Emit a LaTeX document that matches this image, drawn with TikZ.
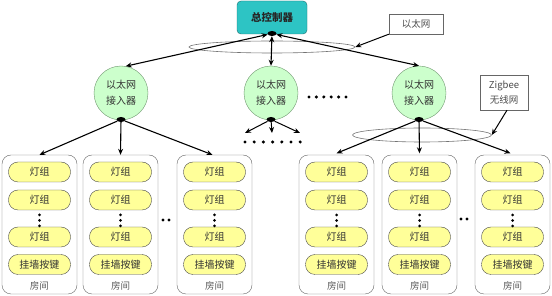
\documentclass[tikz,border=0pt]{standalone}
\usepackage{fontspec}
\newfontfamily\cjk{Noto Sans CJK SC}
\usetikzlibrary{shapes.geometric,arrows.meta}
\definecolor{teal1}{RGB}{45,196,196}
\definecolor{teal2}{RGB}{30,110,110}
\definecolor{green1}{RGB}{204,255,204}
\definecolor{green2}{RGB}{110,150,110}
\definecolor{yel1}{RGB}{255,255,153}
\definecolor{txt}{RGB}{50,50,50}
\tikzset{
  ctrl/.style={draw=teal2,fill=teal1,rounded corners=4pt,minimum width=70pt,minimum height=33pt,inner sep=0pt,font=\cjk\bfseries\fontsize{10.5}{12}\selectfont,text=black!85},
  acc/.style={circle,draw=green2,fill=green1,minimum size=54pt,inner sep=0pt,align=center,font=\cjk\fontsize{10}{16}\selectfont,text=txt},
  room/.style={draw=black!60,rounded corners=9pt,minimum width=75pt,minimum height=139pt,inner sep=0pt},
  pill/.style={draw=black!70,fill=yel1,rounded corners=9.5pt,minimum width=62pt,minimum height=20pt,inner sep=0pt,font=\cjk\fontsize{10}{11}\selectfont,text=txt},
  rlabel/.style={font=\cjk\fontsize{9.5}{11}\selectfont,text=black!65,inner sep=0pt},
  lbox/.style={draw=black!60,fill=white,inner sep=0pt,align=center,font=\cjk\fontsize{9.5}{15}\selectfont,text=black!70},
  ring/.style={ellipse,draw=black!55,line width=0.6pt,inner sep=0pt},
  arr/.style={-{Stealth[length=6pt,width=5pt]},line width=1.1pt},
  darr/.style={{Stealth[length=6pt,width=5pt]}-{Stealth[length=6pt,width=5pt]},line width=1.1pt},
  blob/.style={ellipse,fill=black,minimum width=9pt,minimum height=5pt,inner sep=0pt},
  dot/.style={circle,fill=black,minimum size=3.4pt,inner sep=0pt},
}
\begin{document}
\begin{tikzpicture}[x=1pt,y=-1pt]
\useasboundingbox (0,0) rectangle (552,296);
% rings
\node[ring,minimum width=166pt,minimum height=12pt] (eth) at (272,47) {};
\node[ring,minimum width=139pt,minimum height=14pt] (zig) at (422,135) {};
% controller
\node[ctrl] (C) at (272,17.5) {总控制器};
\node[blob] (JC) at (272,33.5) {};
% access nodes
\node[acc] (A1) at (121,93) {以太网\\接入器};
\node[acc] (A2) at (271,93) {以太网\\接入器};
\node[acc] (A3) at (419,93) {以太网\\接入器};
\node[blob] (J1) at (121,119.5) {};
\node[blob] (J2) at (271,119.5) {};
\node[blob] (J3) at (419,119.5) {};
% labels
\node[lbox,minimum width=54pt,minimum height=20pt] (LE) at (416,24) {以太网};
\node[lbox,minimum width=48pt,minimum height=35pt] (LZ) at (504,92.5) {Zigbee\\无线网};
\draw[arr,line width=1pt] (LE.south west) -- (eth.east);
\draw[arr,line width=1pt] (LZ.south) ++(3pt,0) coordinate (lzs) -- (zig.east);
% controller links
\draw[darr] (JC) -- (A1.80);
\draw[darr] (JC) -- (A2.north);
\draw[darr] (JC) -- (A3.north);
% dots between access nodes
\foreach \i [count=\k] in {0,...,5} \node[dot] (hd\k) at (309+7.4*\i,97) {};
% middle node fan-out
\foreach \i [count=\k] in {0,...,6} \node[dot] (md\k) at (245+9.2*\i,142) {};
\coordinate (m1) at (245,133);
\coordinate (m2) at (272,133);
\coordinate (m3) at (300,133);
\draw[arr,line width=1pt] (J2) -- (m1);
\draw[arr,line width=1pt] (J2) -- (m2);
\draw[arr,line width=1pt] (J2) -- (m3);
% rooms
\foreach \n/\x in {1/39.5,2/120.5,3/214.5,4/336.5,5/419.5,6/512.5}{
  \node[room] (R\n) at (\x,224.5) {};
  \node[pill] (R\n a) at (\x,172) {灯组};
  \node[pill] (R\n b) at (\x,200) {灯组};
  \node[pill] (R\n c) at (\x,237) {灯组};
  \node[pill] (R\n d) at (\x,264.5) {挂墙按键};
  \node[dot,minimum size=3pt] (R\n d1) at (\x,215) {};
  \node[dot,minimum size=3pt] (R\n d2) at (\x,220.5) {};
  \node[dot,minimum size=3pt] (R\n d3) at (\x,226) {};
  \node[rlabel] (R\n l) at (\x,286) {房间};
}
\node[dot] (g1) at (163,220) {};
\node[dot] (g2) at (169,220) {};
\node[dot] (g3) at (461,219) {};
\node[dot] (g4) at (467,219) {};
% access to rooms
\draw[arr] (J1) -- (R1.north);
\draw[arr] (J1) -- (R2.north);
\draw[arr] (J1) -- ([xshift=-2pt]R3.north);
\draw[arr] (J3) -- ([yshift=1.5pt]R4.north);
\draw[arr] (J3) -- ([yshift=1.5pt]R5.north);
\draw[arr] (J3) -- ([xshift=-2pt,yshift=1.5pt]R6.north);
\end{tikzpicture}
\end{document}
